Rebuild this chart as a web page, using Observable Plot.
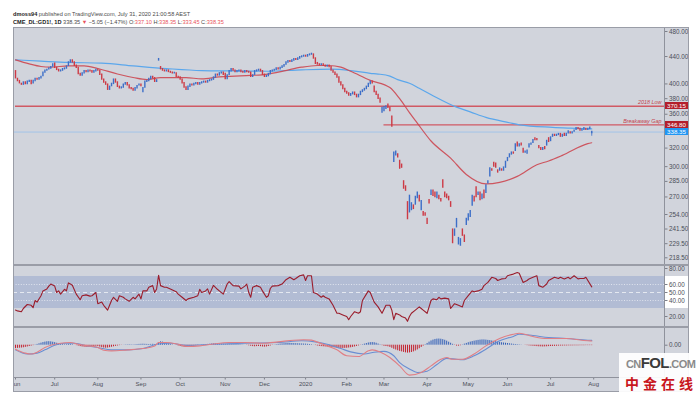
<!DOCTYPE html>
<html><head><meta charset="utf-8">
<script src="https://cdn.jsdelivr.net/npm/d3@7"></script>
<script src="https://cdn.jsdelivr.net/npm/@observablehq/plot@0.6"></script>
<style>
body{margin:0;background:#fff;font-family:"Liberation Sans",Arial,sans-serif;}
#page{position:relative;width:697px;height:397px;overflow:hidden;background:#fff}
.hdr{position:absolute;left:13px;font-size:5.6px;color:#4a4a4a;white-space:nowrap;line-height:7px}
.hdr b{color:#222}
.red{color:#e8535b}
#frame{position:absolute;left:13px;top:27px;width:675px;height:365px;background:#d1d4dc;overflow:hidden}
.line{position:absolute;background:#9a9da7}
.box{position:absolute;height:7.5px;line-height:7.5px;font-size:6.2px;color:#fff;padding-left:2.5px;box-sizing:border-box}
#wm{position:absolute;left:619px;top:353px;width:78px;height:44px;background:rgba(255,255,255,0.93)}
</style></head><body><div id="page">
<div class="hdr" id="h1" style="top:11px"></div>
<div class="hdr" id="h2" style="top:19px"></div>
<div id="frame"></div>
<div class="line" style="left:13px;top:27px;width:675px;height:1px"></div>
<div class="line" style="left:13px;top:27px;width:1px;height:365px"></div>
<div class="line" style="left:688px;top:27px;width:1px;height:365px"></div>
<div class="line" style="left:13px;top:391px;width:676px;height:1px"></div>
<div id="wm">
  <div style="position:absolute;left:7px;top:1px;white-space:nowrap;font-family:'Liberation Sans',Arial,sans-serif;letter-spacing:-0.6px"><span style="color:#8a8a8a;font-size:11px;font-weight:bold">CN</span><span style="color:#3a3a3a;font-size:15px;font-weight:bold">FOL</span><span style="color:#8a8a8a;font-size:11px;font-weight:bold">.COM</span></div>
  <div style="position:absolute;left:6px;top:20px;white-space:nowrap;font-family:'Noto Sans CJK SC',sans-serif;color:#c8161d;font-size:14px;font-weight:bold;letter-spacing:4px">中金在线</div>
</div>
</div>
<script>
// ---------------- DATA ----------------
const symbol = "CME_DL:GD1!, 1D";
const author = "dmoss94";
const published = "July 31, 2020 21:00:58 AEST";
const lastBar = {o: 337.10, h: 338.35, l: 333.45, c: 338.35};
const prevClose = 343.40;

// daily candles [open, close], one array per month (trading days)
const m2019_06 = [[418,408],[407,404],[404,401],[400,399],[399,402],[402,400],[400,403],[403,404],[404,400],[401,404],[404,407],[407,406],[406,408],[408,410],[411,416],[416,419],[419,420],[421,422],[422,424],[425,428]];
const m2019_07 = [[429,423],[423,420],[420,418],[418,419],[419,421],[421,422],[422,425],[426,431],[431,434],[434,431],[431,426],[426,423],[423,414],[414,412],[412,415],[415,418],[418,417],[417,419],[419,418],[418,416],[416,418],[418,420]];
const m2019_08 = [[420,419],[419,413],[413,406],[406,402],[402,399],[399,392],[392,396],[397,400],[400,406],[406,402],[402,396],[396,394],[394,395],[395,399],[399,401],[401,398],[398,394],[394,393],[393,391],[391,394],[394,397],[398,399]];
const m2019_09 = [[399,397],[389,394],[395,403],[403,404],[404,407],[407,410],[410,408],[408,403],[403,405],[434,436],[424,421],[421,419],[419,418],[418,419],[419,417],[417,416],[416,415],[415,415.5],[415,410],[410,409]];
const m2019_10 = [[409,406],[406,401],[401,395],[395,392],[392,396],[396,399],[399,398],[398,400],[400,401],[401,399],[399,401],[401,402],[402,403],[403,402],[402,404],[404,405],[405,406],[406,409],[409,413],[413,412],[412,415],[415,416],[416,413]];
const m2019_11 = [[414,407],[407,412],[413,418],[418,421],[421,419],[419,417],[417,418],[418,419],[419,417],[417,416],[416,418],[418,417],[417,416],[416,410],[410,412],[413,418],[418,419],[419,420],[420,418],[418,413]];
const m2019_12 = [[413,410],[410,411],[411,414],[414,418],[418,419],[419,420],[420,422],[422,421],[421,423],[423,425],[425,427],[428,431],[431,433],[433,432],[432,434],[434,436],[436,435],[435,437],[437,439],[439,440],[440,441]];
const m2020_01 = [[441,440],[440,442],[442,443],[443,444],[443,437],[437,429],[430,428],[428,427],[427,428],[428,426],[426,425],[425,426],[426,424],[424,419],[419,416],[416,413],[413,409],[409,402],[402,398],[398,393],[393,389]];
const m2020_02 = [[389,387],[387,384],[384,386],[386,388],[388,385],[385,382],[382,385],[385,389],[389,391],[391,393],[393,396],[396,400],[400,403],[403,401],[396,389],[389,385],[385,380],[380,375],[362,368]];
const m2020_03 = [[364,369],[367,370],[372,368],[368,364],[357,345],[305,315],[312,316],[313,310],[306,298],[302,299],[285,278],[280,276],[265,250],[256,271],[258,264],[262,259],[263,270],[269,274],[271,266],[258,266],[256,253],[255,253]];
const m2020_04 = [[250,246],[267,264],[272,276],[276,271],[274,270],[269,274],[271,268],[268,266],[286,279],[274,270],[272,269],[270,267],[265,261],[241,230],[236,241],[243,250],[229,234],[228,233],[241,236],[236,231],[245,250]];
const m2020_05 = [[249,254],[252,257],[262,271],[270,266],[279,270],[272,274],[274,267],[268,272],[276,269],[274,281],[283,285],[290,298],[297,296],[304,300],[303,299],[296,294],[296,298],[297,296],[296,299],[299,305]];
const m2020_06 = [[306,309],[310,313],[313,315],[315,314],[317,324],[326,322],[322,324],[325,323],[319,315],[315,316],[314,317],[321,324],[324,325],[326,329],[331,329],[330,329],[322,320],[320,318],[318,320],[321,319],[323,328],[331,327]];
const m2020_07 = [[328,332],[333,335],[335,334],[334,335],[335,336],[336,333],[333,335],[336,334],[334,336],[337,339],[338,337],[337,338],[339,340],[341,343],[343,342],[342,340],[340,341],[341,343],[342,341],[341,342],[342,343.4],[337.1,338.35]];

// moving averages: [trading-day index, value]
const ma50 = [[0,435],[7,429],[13,425],[18,424],[27,426],[35,426],[42,422],[52,414],[60,409],[67,406],[74,409],[87,409],[95,407],[104,410],[112,411],[120,412],[129,414],[137,418.5],[146,424],[154,426.5],[160,426.5],[166,424],[171,418],[181,405],[191,395],[196,380],[201,362],[205,349],[212,328],[222,309],[230,292],[240,282.5],[247,284],[256,290],[266,302],[272,306],[279,312],[292,325],[294,326]];
const ma200 = [[0,435],[13,433],[27,431],[44,430],[60,426],[77,422],[95,419],[112,418.5],[129,418],[146,420],[161,421],[171,419],[181,415],[185,414],[191,411],[195,406],[201,401],[206,394],[213,384],[225,369],[232,363],[240,356],[252,349.5],[257,347],[274,344],[283,343],[294,342]];

// RSI(14): [index, value]
const rsiPoints = [[0,28],[1,27],[3,26],[4,30],[6,35],[8,34],[9,31],[10,40],[11,38],[13,46],[14,52],[16,54.5],[17,58],[18,60.6],[20,58],[21,50],[22,52],[23,48],[25,54],[26,52],[27,62],[28,60.6],[29,59],[31,48],[33,41],[34,46],[36,47],[38,45.5],[39,46],[41,50],[42,36],[44,38],[45,34],[47,28],[48,34],[49,40],[50,44],[52,39],[53,46],[55,44],[56,42],[58,39],[60,44],[61,42],[63,48],[64,42],[65,52],[67,52],[68,56.5],[70,58.6],[71,50],[72,54.5],[73,71.6],[74,58.6],[76,56.5],[77,56.5],[79,54.5],[82,51],[83,48],[85,44],[87,40],[88,42],[91,44],[93,46],[94,54],[95,50],[97,52],[98,54.5],[99,48],[101,59],[103,54],[104,52],[106,48],[108,60.6],[109,63.5],[111,58.6],[114,58],[115,54.5],[117,58],[118,60.6],[119,50],[120,44],[121,56.5],[123,58.6],[125,56.5],[126,52],[128,44],[129,46],[130,55],[131,58],[134,58.6],[136,60.6],[138,66],[140,69],[142,66],[143,67.5],[145,71],[147,72],[148,65],[149,71],[151,71],[152,50],[154,48],[156,44],[157,46],[158,44],[160,42],[162,34],[164,24],[165,24],[167,22],[169,20],[170,16],[171,20],[173,26],[175,24],[176,26],[177,40],[179,48],[180,52],[181,50],[183,38],[185,32],[187,24],[189,34],[191,34],[192,28],[193,16],[194,24],[196,22],[197,20],[199,18],[200,14],[201,20],[202,24],[204,28],[206,32],[207,30],[208,28],[210,24],[212,40],[213,42],[215,41],[216,44],[217,42],[219,43],[221,42],[222,30],[224,36],[226,34],[228,32],[229,40],[231,46],[233,52],[234,51],[236,52],[238,54],[239,58.6],[241,62.6],[243,69],[245,67.5],[246,65],[248,67],[250,67.5],[251,71],[254,73],[256,75],[257,74],[259,62.6],[261,65],[262,67],[264,69],[266,71],[267,58.6],[269,56.5],[271,60.6],[272,65],[275,69],[277,67.5],[278,69],[280,67],[282,69],[283,67],[285,71],[287,67],[288,67.5],[290,67.5],[291,69],[294,57]];

// MACD line and signal: [index, value]
const macdPoints = [[0,-4.5],[5,-9],[8,-10],[11,-8],[15,-2.6],[18,0],[23,2.3],[28,3],[32,1],[37,-0.8],[42,-2.6],[45,-5.7],[49,-6.4],[57,-5.3],[65,-3.8],[71,-0.8],[73,3],[77,3],[83,1],[88,-1.5],[94,-0.8],[100,1],[109,3],[117,3],[126,2.3],[134,3.8],[142,5.7],[147,6.2],[151,5.8],[154,3.5],[159,-0.8],[164,-5.3],[169,-12],[175,-12.9],[180,-6.4],[182,-5.3],[186,-7.6],[191,-14],[196,-23.5],[201,-34],[207,-31],[212,-23.5],[217,-16],[220,-14],[223,-16],[228,-16],[234,-10],[240,-0.8],[247,7.6],[254,12.5],[257,13.6],[264,9.8],[271,7.6],[281,7.6],[292,5],[294,4.8]];
const signalPoints = [[0,-5.3],[6,-10],[11,-9],[15,-5.3],[20,0],[25,2.3],[30,2.3],[35,0],[42,-2.6],[49,-5.3],[57,-5.3],[65,-3.8],[72,1],[79,2.3],[87,0],[100,1],[117,2.3],[134,3],[146,5],[153,3.8],[159,1],[166,-3.8],[171,-7.6],[178,-10],[183,-8],[188,-7],[193,-12],[196,-19.7],[201,-27],[205,-31],[210,-29.5],[215,-22],[220,-15],[225,-16],[228,-16.5],[234,-12],[240,-4.5],[247,5],[254,10],[257,12.5],[264,11],[272,8.7],[281,7.6],[292,5.7],[294,5.5]];
// MACD histogram, one value per trading day
const macdHist = [-3.7,-3.6,-3.4,-3.2,-2.9,-2.5,-2.0,-1.5,-1.0,-0.5, 0.3,0.9,1.6, 2.3,3.0,3.5,3.9,4.0, 3.8,3.4,2.9,2.2,1.5,1.0, 0.7,0.5,0.6,0.9,1.0,0.6,0.1,
 -0.5,-1.0,-1.6,-2.0,-2.3,-2.5,-2.4,-2.1,-1.8,-1.5,-1.3,-1.6, -2.2,-2.8,-3.2,-3.4,-3.2,-2.8,-2.3,-1.8,-1.3,-0.9,
 -0.5,-0.2,0.1,0.3,0.4,0.5,0.4,0.3,0.5,0.7,0.9,1.0,1.1,1.0,0.9,0.8,0.9,1.0,0.8,0.6, 2.5,3.8,3.5,3.0,2.4,1.8,1.1,
 0.4,0.0,-0.3,-0.9,-1.5,-2.0,-2.4,-2.6,-2.4,-2.0,-1.6,-1.2,-0.8,-0.4,0.0,
 0.3,0.5,0.7,0.9,1.0,1.2,1.4,1.5,1.5,1.4,1.3,1.2,1.0,1.1,1.3,1.4,1.3,1.1,0.9,0.7,0.5,0.3,0.1,
 -0.3,-0.7,-1.2,-1.6,-1.8,-1.6,-1.5,-1.7,-2.0,-2.2,-2.0,-1.5,-0.9,
 -0.3,0.2,0.6,1.0,1.3,1.5,1.7,1.9,2.0,2.0,1.9,1.8,1.7,1.6,1.5,1.4,1.3,1.2,1.0,0.8,0.5,
 0.1,-0.4,-0.9,-1.3,-1.6,-1.8,-2.0,-2.2,-2.4,-2.6,-2.9,-3.1,-3.4,-3.6,-3.7,-3.7,-3.6,-3.5,-3.2,-2.9,-2.5,-2.0,-1.4,-0.8,-0.2,
 0.5,1.2,1.9,2.5,2.9,3.0,2.8,2.2,1.3, 0.4,-0.5,-1.2,-1.5,-1.8,-2.5,
 -3.5,-4.6,-5.5,-6.3,-7.0,-7.6,-8.2,-8.7,-9.0,-8.8,-8.3,-7.6,-6.6,-5.4,-4.0,-2.5, -1.0,0.5,2.0,3.5,
 4.8,5.8,6.5,6.9,7.0,6.8,6.3,5.6,4.6,3.4,2.2,1.0, -0.3,-1.0,-1.1,-0.6,
 0.3,1.2,2.0,2.8,3.5,4.1,4.6,5.1,5.5,5.8,6.0,6.0,5.8,5.5,5.2,4.8,4.4,4.0,3.6,
 3.2,2.8,2.5,2.2,1.9,1.6,1.3,1.0,0.8,0.6,0.4,0.2,0.0,-0.2,
 -0.5,-0.8,-1.0,-1.2,-1.4,-1.6,-1.8,-1.9,-2.0,-1.9,-1.8,-1.6,-1.5,-1.4,-1.3,-1.2,-1.1,-1.0,-1.0,-0.9,-0.9,-0.8,-0.8,-0.8,-0.7,-0.7,-0.7,-0.6,-0.6,-0.6,-0.5,-0.5,-0.5,-0.5];

// horizontal levels drawn on the chart
const levels = [{label: "2018 Low", value: 370.15, from: "2019-06-03"}, {label: "Breakaway Gap", value: 346.80, from: "2020-03-02"}];

// tick labels
const priceTicks = [480, 440, 400, 380, 360, 320, 300, 285, 270, 254, 241.5, 229.5, 218.5];
const rsiTicks = [80, 60, 50, 40, 20];
const macdTicks = [0, -20];
const monthLabels = ["Jun","Jul","Aug","Sep","Oct","Nov","Dec","2020","Feb","Mar","Apr","May","Jun","Jul","Aug"];
const holidays = ["2019-07-04","2019-09-02","2019-11-28","2019-12-25","2020-01-01","2020-01-20","2020-02-17","2020-04-10","2020-05-25","2020-07-03"];

// ---------------- BUILD ----------------
const FONT = '"Liberation Sans", Arial, sans-serif';
const UP = "#3c6ec8", DOWN = "#cd3a45";
const hol = new Set(holidays);
const dates = [];
for (let t = Date.UTC(2019, 5, 3); t <= Date.UTC(2020, 6, 31); t += 864e5) {
  const d = new Date(t), wd = d.getUTCDay(), iso = d.toISOString().slice(0, 10);
  if (wd === 0 || wd === 6 || hol.has(iso)) continue;
  dates.push(iso);
}
const dayIndex = new Map(dates.map((d, i) => [d, i]));
const ohlc = [m2019_06, m2019_07, m2019_08, m2019_09, m2019_10, m2019_11, m2019_12, m2020_01, m2020_02, m2020_03, m2020_04, m2020_05, m2020_06, m2020_07].flat();
const candles = ohlc.map(([o, c], j) => ({j, o, c}));
const wicks = [{j: candles.length - 1, h: lastBar.h, l: lastBar.l}];
const monthStarts = [];
dates.forEach((d, i) => { if (i === 0 || d.slice(0, 7) !== dates[i - 1].slice(0, 7)) monthStarts.push(i); });
monthStarts.push(dates.length);
const monthName = new Map(monthStarts.map((j, k) => [j, monthLabels[k]]));
const pts = a => a.map(([j, v]) => ({j, v}));
const hist = macdHist.map((v, j) => ({j, v}));

const W = 675, MR = 24;
const X = {type: "linear", domain: [0, 295], range: [2, 2 + 1.96 * 295], axis: null};
const xEdge = d3.scaleLinear(X.domain, X.range).invert(W - MR); // right edge of the plotting area
const lv = levels.map(d => ({...d, j1: dayIndex.get(d.from), j2: xEdge}));
const baseStyle = {background: "transparent", color: "#4b4e58", fontFamily: FONT, fontSize: "6.3px", overflow: "hidden"};
const fmt = d => (d < 0 ? "\u2212" : "") + Math.abs(d).toFixed(2);
const yAxis = ticks => Plot.axisY({anchor: "right", ticks, tickFormat: fmt, tickSize: 2.5, tickPadding: 2, stroke: "#7d808a", label: null});

const mainPlot = Plot.plot({
  width: W, height: 237, marginLeft: 0, marginRight: MR, marginTop: 0, marginBottom: 0,
  style: baseStyle,
  x: X,
  y: {type: "log", domain: [218.5, 480], range: [230.3, 4], axis: null, label: null},
  marks: [
    Plot.ruleY([lastBar.c], {stroke: "#a2c3e8", strokeWidth: 1}),
    Plot.ruleY(lv, {y: "value", x1: "j1", x2: "j2", stroke: "#cf4c56", strokeWidth: 1.3, strokeOpacity: 0.9}),
    Plot.text(lv, {y: "value", text: "label", frameAnchor: "right", textAnchor: "end", dx: -3, dy: -3.8, fill: "#c4434d", fontStyle: "italic", fontSize: 5.4}),
    Plot.line(pts(ma200), {x: "j", y: "v", curve: "monotone-x", stroke: "#5ba7ec", strokeWidth: 1.2}),
    Plot.line(pts(ma50), {x: "j", y: "v", curve: "monotone-x", stroke: "#cc4751", strokeWidth: 1.2, strokeOpacity: 0.9}),
    Plot.ruleX(wicks, {x: "j", y1: "l", y2: "h", stroke: UP, strokeWidth: 0.8}),
    Plot.ruleX(candles, {x: "j", y1: "o", y2: "c", stroke: d => d.c >= d.o ? UP : DOWN, strokeWidth: 1.4, strokeLinecap: "square"}),
    yAxis(priceTicks),
    Plot.frame({anchor: "right", stroke: "#8f929c"})
  ]
});

const rsiPlot = Plot.plot({
  width: W, height: 60, marginLeft: 0, marginRight: MR, marginTop: 0, marginBottom: 0,
  style: baseStyle,
  x: X,
  y: {domain: [0, 100], range: [66, -14], axis: null, label: null},
  marks: [
    Plot.rect([{a: 30, b: 70}], {y1: "a", y2: "b", fill: "#b2bcd4"}),
    Plot.ruleY([60, 40], {stroke: "#e4e8f0", strokeDasharray: "1,1.6", strokeWidth: 0.9}),
    Plot.ruleY([50], {stroke: "#e4e8f0", strokeDasharray: "4,3", strokeWidth: 1}),
    Plot.line(pts(rsiPoints), {x: "j", y: "v", stroke: "#9b1d2c", strokeWidth: 1.1}),
    yAxis(rsiTicks),
    Plot.frame({anchor: "right", stroke: "#8f929c"})
  ]
});

const macdPlot = Plot.plot({
  width: W, height: 64, marginLeft: 0, marginRight: MR, marginTop: 0, marginBottom: 15,
  style: baseStyle,
  x: {...X, label: null},
  y: {domain: [-40, 20], range: [51.9, -0.9], axis: null, label: null},
  marks: [
    Plot.ruleX(hist, {x: "j", y1: 0, y2: "v", stroke: d => d.v >= 0 ? "#2f5db6" : "#c4222f", strokeWidth: 1}),
    Plot.line(pts(signalPoints), {x: "j", y: "v", curve: "monotone-x", stroke: "#6a8ed2", strokeWidth: 1.1, clip: true}),
    Plot.line(pts(macdPoints), {x: "j", y: "v", curve: "monotone-x", stroke: "#e07e84", strokeWidth: 1.1, clip: true}),
    yAxis(macdTicks),
    Plot.axisX({anchor: "bottom", ticks: monthStarts, tickFormat: d => monthName.get(d), tickSize: 2.5, tickPadding: 2, fontSize: 6, stroke: "#7d808a", label: null}),
    Plot.frame({anchor: "right", stroke: "#8f929c"}),
    Plot.frame({anchor: "bottom", stroke: "#8f929c"})
  ]
});

// ---------------- LAYOUT ----------------
const frame = document.getElementById("frame");
function div(style, html) { const e = document.createElement("div"); e.setAttribute("style", style); if (html) e.innerHTML = html; frame.appendChild(e); return e; }
// white area behind the RSI 30..70 labels on the price scale
const rsiY = rsiPlot.scale("y");
div(`position:absolute;left:652px;width:23px;top:${239 + rsiY.apply(70)}px;height:${rsiY.apply(30) - rsiY.apply(70)}px;background:#fff`);
function place(svg, top) { svg.style.position = "absolute"; svg.style.left = "0px"; svg.style.top = top + "px"; frame.appendChild(svg); }
place(mainPlot, 0);
place(rsiPlot, 239);
place(macdPlot, 301);
div("position:absolute;left:0;top:237px;width:675px;height:2px;background:#9a9da7");
div("position:absolute;left:0;top:299px;width:675px;height:2px;background:#9a9da7");
// price scale labels
const yMain = mainPlot.scale("y");
const tags = [{v: levels[0].value, bg: "#b31f2c"}, {v: levels[1].value, bg: "#b31f2c"}, {v: lastBar.c, bg: "#2196f3"}];
for (const t of tags) {
  const e = div(`left:651.5px;width:23.5px;top:${yMain.apply(t.v) - 3.75}px;background:${t.bg}`, t.v.toFixed(2));
  e.className = "box";
}
// header
const chg = lastBar.c - prevClose, pct = chg / prevClose * 100;
document.getElementById("h1").innerHTML = `<b>${author}</b> published on TradingView.com, ${published}`;
document.getElementById("h2").innerHTML = `<b>${symbol}</b> ${lastBar.c.toFixed(2)} <span class="red">\u25BC</span> \u2212${Math.abs(chg).toFixed(2)} (\u2212${Math.abs(pct).toFixed(2)}%) O:<span class="red">${lastBar.o.toFixed(2)}</span> H:<span class="red">${lastBar.h.toFixed(2)}</span> L:<span class="red">${lastBar.l.toFixed(2)}</span> C:<span class="red">${lastBar.c.toFixed(2)}</span>`;
</script>
</body></html>
